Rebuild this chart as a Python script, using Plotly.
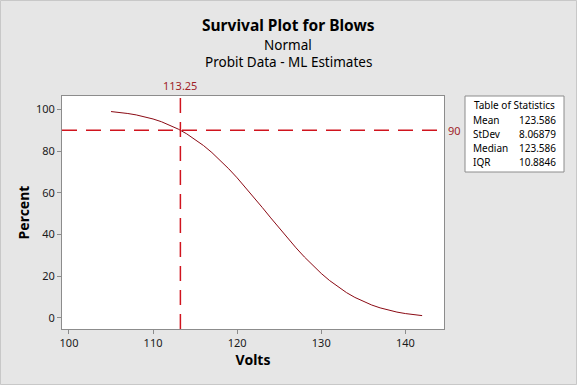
import plotly.graph_objects as go

volts = list(range(105, 143))
percent = [98.94, 98.53, 98.01, 97.33, 96.47, 95.39, 94.06, 92.45, 90.52, 88.26,
           85.64, 82.64, 79.28, 75.56, 71.50, 67.16, 62.55, 57.80, 52.90, 47.96,
           43.05, 38.25, 33.62, 29.22, 25.11, 21.33, 17.91, 14.85, 12.16, 9.84,
           7.86, 6.20, 4.83, 3.70, 2.81, 2.10, 1.55, 1.12]
ref_x = 113.25
ref_y = 90
stat_names = ["Mean", "StDev", "Median", "IQR"]
stat_values = ["123.586", "8.06879", "123.586", "10.8846"]
x_ticks = [100, 110, 120, 130, 140]
y_ticks = [0, 20, 40, 60, 80, 100]
title_lines = ["Survival Plot for Blows", "Normal", "Probit Data - ML Estimates"]

W, H = 577, 385
L, R, T, B = 62, 444, 96, 329
FONT = "Noto Sans"

def px(xp):
    return (xp - L) / (R - L)

def py(yp):
    return (B - yp) / (B - T)

fig = go.Figure()
fig.add_trace(go.Scatter(x=volts, y=percent, mode="lines",
                         line=dict(color="#8b0a14", width=1), hoverinfo="skip"))

shapes = [
    dict(type="line", xref="x", yref="paper", x0=ref_x, x1=ref_x, y0=0, y1=1,
         line=dict(color="#d0141e", width=1.5, dash="15px,9px")),
    dict(type="line", xref="paper", yref="y", x0=0, x1=1, y0=ref_y, y1=ref_y,
         line=dict(color="#d0141e", width=1.5, dash="15px,9px")),
    dict(type="rect", xref="paper", yref="paper", x0=px(465), x1=px(564),
         y0=py(172), y1=py(96), line=dict(color="#8c8c8c", width=1), fillcolor="white",
         layer="below"),
    dict(type="rect", xref="paper", yref="paper", x0=px(0.5), x1=px(576.5),
         y0=py(384.5), y1=py(0.5), line=dict(color="#c8c8c8", width=1), layer="below"),
]

ann = [
    dict(x=ref_x, y=1, xref="x", yref="paper", yshift=1, text=str(ref_x), showarrow=False,
         xanchor="center", yanchor="bottom", font=dict(size=11, color="#a01e28", family=FONT)),
    dict(x=1, y=ref_y, xref="paper", yref="y", xshift=2, text=str(ref_y), showarrow=False,
         xanchor="left", yanchor="middle", font=dict(size=11, color="#a01e28", family=FONT)),
    dict(x=px(514.5), y=py(105), xref="paper", yref="paper", text="Table of Statistics",
         showarrow=False, xanchor="center", yanchor="middle",
         font=dict(size=10, color="black", family=FONT)),
]
for txt, yc, sz, bold in zip(title_lines, [25, 45, 62], [15.5, 13.5, 13.5], [True, False, False]):
    ann.append(dict(x=px(288), y=py(yc), xref="paper", yref="paper",
                    text=f"<b>{txt}</b>" if bold else txt, showarrow=False,
                    xanchor="center", yanchor="middle",
                    font=dict(size=sz, color="black", family=FONT)))
for i, (n, v) in enumerate(zip(stat_names, stat_values)):
    yy = py(119.5 + i * 14)
    ann.append(dict(x=px(471), y=yy, xref="paper", yref="paper", text=n, showarrow=False,
                    xanchor="left", yanchor="middle",
                    font=dict(size=10, color="black", family=FONT)))
    ann.append(dict(x=px(558), y=yy, xref="paper", yref="paper", text=v, showarrow=False,
                    xanchor="right", yanchor="middle",
                    font=dict(size=10, color="black", family=FONT)))

fig.update_layout(
    width=W, height=H,
    margin=dict(l=L, r=W - R, t=T, b=H - B, autoexpand=False),
    paper_bgcolor="#e6e6e6", plot_bgcolor="white",
    showlegend=False,
    font=dict(family=FONT, color="#1a1a1a"),
    shapes=shapes, annotations=ann,
)
fig.update_xaxes(range=[99.17, 144.6], tickvals=x_ticks, ticks="outside", ticklen=4,
                 tickcolor="#8c8c8c", showgrid=False, zeroline=False, showline=True,
                 linecolor="#8c8c8c", linewidth=1, mirror=True,
                 tickfont=dict(size=11, color="#1a1a1a"),
                 title=dict(text="<b>Volts</b>", font=dict(size=14, color="black"), standoff=4))
fig.update_yaxes(range=[-5.3, 106.4], tickvals=y_ticks, ticks="outside", ticklen=4,
                 tickcolor="#8c8c8c", showgrid=False, zeroline=False, showline=True,
                 linecolor="#8c8c8c", linewidth=1, mirror=True,
                 tickfont=dict(size=11, color="#1a1a1a"),
                 title=dict(text="<b>Percent</b>", font=dict(size=14, color="black"), standoff=3))

fig.write_html("out.html", config={"displayModeBar": False},
               post_script="document.body.style.margin='0';document.body.style.overflow='hidden';")
